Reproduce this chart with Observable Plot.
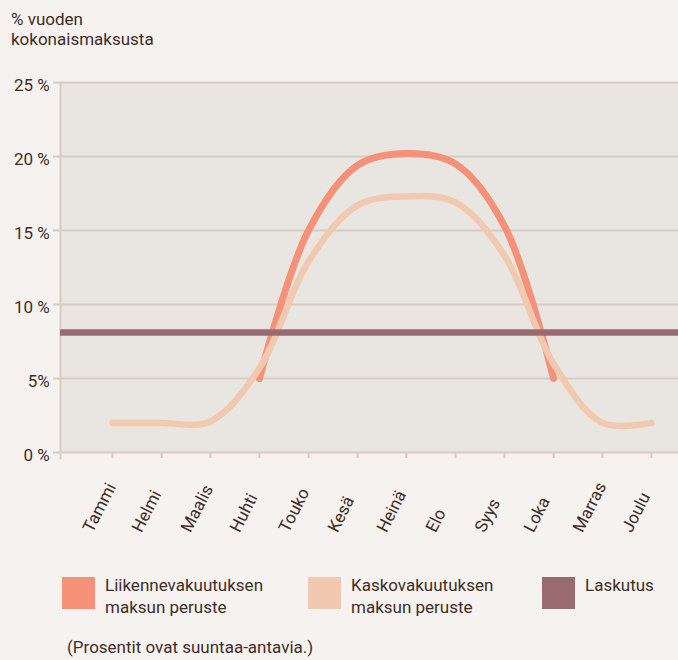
<!DOCTYPE html>
<html>
<head>
<meta charset="utf-8">
<script src="https://cdn.jsdelivr.net/npm/d3@7"></script>
<script src="https://cdn.jsdelivr.net/npm/@observablehq/plot@0.6"></script>
<style>
  html, body { margin: 0; padding: 0; background: #f6f2ef; }
  body { font-family: Roboto, sans-serif; color: #3f2d27; }
  #wrap { position: relative; width: 678px; height: 660px; overflow: hidden; }
  .t { position: absolute; font-size: 17px; white-space: nowrap; }
  #title { left: 11px; top: 9.2px; line-height: 20px; }
  #chart { position: absolute; left: 0; top: 62px; }
  .sw { position: absolute; width: 33px; height: 32px; top: 577px; }
  .lt { top: 575px; line-height: 21.6px; }
  #note { left: 67px; top: 637.2px; line-height: 20px; }
</style>
</head>
<body>
<div id="wrap">
  <div id="title" class="t">% vuoden<br>kokonaismaksusta</div>
  <div id="chart"></div>
  <div id="legend"></div>
  <div id="note" class="t">(Prosentit ovat suuntaa-antavia.)</div>
</div>
<script>
// ---- data ----
const months = ["Tammi", "Helmi", "Maalis", "Huhti", "Touko", "Kesä", "Heinä", "Elo", "Syys", "Loka", "Marras", "Joulu"];
const liikenne = [null, null, null, 5.0, 15.0, 19.4, 20.2, 19.5, 15.3, 5.0, null, null];
const kasko = [2.0, 2.0, 2.1, 5.7, 12.9, 16.7, 17.3, 16.9, 13.3, 6.0, 2.0, 2.0];
const laskutus = 8.1;
const yTicks = [0, 5, 10, 15, 20, 25];
const yTickLabels = ["0 %", "5%", "10 %", "15 %", "20 %", "25 %"];
const seriesNames = ["Liikennevakuutuksen\nmaksun peruste", "Kaskovakuutuksen\nmaksun peruste", "Laskutus"];

// ---- styles ----
const colors = ["#f59079", "#f1c9b0", "#996b71"];
const gridColor = "#d8cbc1";
const textColor = "#3f2d27";
const plotBg = "#e9e6e1";

const liikData = months.map((m, i) => ({month: m, value: liikenne[i]}));
const kaskoData = months.map((m, i) => ({month: m, value: kasko[i]}));
const fmt = d => yTickLabels[yTicks.indexOf(d)];

const chart = Plot.plot({
  width: 678,
  height: 498,
  marginLeft: 60,
  marginRight: 0,
  marginTop: 20,
  marginBottom: 108,
  style: {background: "transparent", fontFamily: "Roboto, sans-serif", fontSize: "17px", color: textColor, overflow: "visible"},
  x: {type: "point", domain: months, range: [111, 652], padding: 0, axis: null, label: null},
  y: {domain: [0, 25], axis: null, label: null},
  marks: [
    Plot.frame({fill: plotBg, stroke: "none"}),
    Plot.ruleY(yTicks, {stroke: gridColor, strokeWidth: 2}),
    Plot.frame({anchor: "left", stroke: gridColor, strokeWidth: 2, insetBottom: -6}),
    Plot.axisY({ticks: yTicks, tickSize: 7, stroke: gridColor, strokeWidth: 2, tickFormat: () => "", label: null}),
    Plot.axisY({ticks: yTicks, tickSize: 0, tickPadding: 10.7, dy: 3, fill: textColor, tickFormat: fmt, fontSize: 17, label: null}),
    Plot.axisX({tickSize: 6, stroke: gridColor, strokeWidth: 2, tickFormat: () => "", label: null}),
    Plot.text(months, {x: d => d, text: d => d, frameAnchor: "bottom", rotate: -63, textAnchor: "start", lineAnchor: "bottom", dx: -20, dy: 81, fill: textColor, fontSize: 17}),
    Plot.line(liikData, {x: "month", y: "value", stroke: colors[0], strokeWidth: 7, curve: "catmull-rom", strokeLinecap: "round", strokeLinejoin: "round"}),
    Plot.line(kaskoData, {x: "month", y: "value", stroke: colors[1], strokeWidth: 6.5, curve: "catmull-rom", strokeLinecap: "round", strokeLinejoin: "round"}),
    Plot.ruleY([laskutus], {stroke: colors[2], strokeWidth: 6.5})
  ]
});
document.getElementById("chart").appendChild(chart);

// ---- legend ----
const legend = document.getElementById("legend");
const swX = [62, 308, 542];
const txX = [105, 351, 585];
seriesNames.forEach((name, i) => {
  const sw = document.createElement("div");
  sw.className = "sw";
  sw.style.left = swX[i] + "px";
  sw.style.background = colors[i];
  legend.appendChild(sw);
  const tx = document.createElement("div");
  tx.className = "t lt";
  tx.style.left = txX[i] + "px";
  tx.innerHTML = name.replace("\n", "<br>");
  legend.appendChild(tx);
});
</script>
</body>
</html>
